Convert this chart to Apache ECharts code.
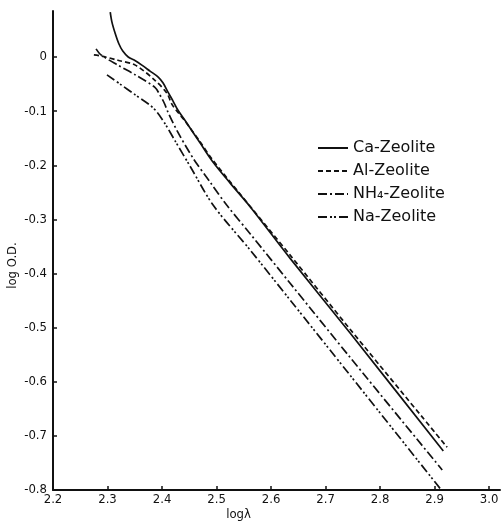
<!DOCTYPE html>
<html>
<head>
<meta charset="utf-8">
<script src="https://cdn.jsdelivr.net/npm/echarts@6/dist/echarts.min.js"></script>
<style>
html,body{margin:0;padding:0;background:#fff;}
#chart{width:501px;height:524px;}
</style>
</head>
<body>
<div id="chart"></div>
<script>
// Series names
var seriesNames = ['Ca-Zeolite', 'Al-Zeolite', 'NH\u2084-Zeolite', 'Na-Zeolite'];

// [log λ, log O.D.] pairs
var caData = [[2.305,0.083],[2.308,0.065],[2.314,0.044],[2.321,0.024],[2.328,0.011],[2.338,0.000],[2.351,-0.007],[2.363,-0.015],[2.378,-0.026],[2.393,-0.037],[2.402,-0.048],[2.411,-0.065],[2.420,-0.081],[2.429,-0.098],[2.442,-0.117],[2.470,-0.159],[2.492,-0.192],[2.525,-0.233],[2.562,-0.277],[2.635,-0.372],[2.745,-0.510],[2.916,-0.728]];
var alData = [[2.275,0.004],[2.288,0.002],[2.319,-0.006],[2.351,-0.015],[2.387,-0.043],[2.409,-0.067],[2.418,-0.087],[2.429,-0.102],[2.442,-0.118],[2.470,-0.157],[2.492,-0.189],[2.539,-0.248],[2.635,-0.366],[2.745,-0.503],[2.923,-0.721]];
var nhData = [[2.279,0.015],[2.288,0.004],[2.319,-0.015],[2.351,-0.033],[2.387,-0.056],[2.396,-0.070],[2.404,-0.085],[2.411,-0.102],[2.428,-0.137],[2.457,-0.187],[2.488,-0.231],[2.519,-0.274],[2.562,-0.327],[2.635,-0.418],[2.745,-0.555],[2.914,-0.763]];
var naData = [[2.299,-0.033],[2.323,-0.050],[2.351,-0.070],[2.378,-0.089],[2.391,-0.102],[2.406,-0.124],[2.424,-0.155],[2.451,-0.201],[2.494,-0.274],[2.562,-0.357],[2.635,-0.449],[2.745,-0.588],[2.910,-0.797]];

// Tick labels
var xTickLabels = ['2.2','2.3','2.4','2.5','2.6','2.7','2.8','2.9','3.0'];
var yTickLabels = ['-0.8','-0.7','-0.6','-0.5','-0.4','-0.3','-0.2','-0.1','0'];

var chart = echarts.init(document.getElementById('chart'), null, {renderer:'canvas'});
var ink = '#111';
var labelFont = '"DejaVu Sans Condensed", "DejaVu Sans", sans-serif';

function makeSeries(name, data, type) {
  return {
    name: name, type: 'line', data: data, symbol: 'none', smooth: 0.3,
    lineStyle: {color: ink, width: 1.7, type: type},
    itemStyle: {color: ink},
    emphasis: {disabled: true}, animation: false
  };
}

chart.setOption({
  animation: false,
  grid: {left: 53, right: 1, top: 11, bottom: 34, containLabel: false, outerBoundsMode: 'none'},
  legend: {
    orient: 'vertical', left: 317, top: 140, padding: 0,
    itemWidth: 30, itemHeight: 14, itemGap: 7,
    itemStyle: {opacity: 0},
    data: seriesNames,
    textStyle: {fontFamily: '"DejaVu Sans", sans-serif', fontSize: 16, color: ink, lineHeight: 14}
  },
  xAxis: {
    type: 'value', min: 2.2, max: 3.02, interval: 0.1,
    name: 'log\u03bb', nameLocation: 'middle', nameGap: 18, nameMoveOverlap: false,
    nameTextStyle: {fontFamily: labelFont, fontSize: 13, color: ink, padding: [0, 76, 0, 0]},
    axisLine: {onZero: false, lineStyle: {color: ink, width: 2}},
    axisTick: {show: true, inside: true, length: 4, lineStyle: {color: ink, width: 1.5}},
    splitLine: {show: false},
    axisLabel: {
      margin: 3, fontFamily: labelFont, fontSize: 13, color: ink, showMaxLabel: false,
      formatter: function (v) {
        var i = Math.round((v - 2.2) / 0.1);
        if (Math.abs(v - (2.2 + i * 0.1)) > 1e-6 || i < 0 || i >= xTickLabels.length) return '';
        return xTickLabels[i];
      }
    }
  },
  yAxis: {
    type: 'value', min: -0.8, max: 0.085, interval: 0.1,
    name: 'log O.D.', nameLocation: 'middle', nameGap: 34, nameRotate: 90, nameMoveOverlap: false,
    nameTextStyle: {fontFamily: labelFont, fontSize: 13, color: ink, padding: [0, 30, 0, 0]},
    axisLine: {show: true, onZero: false, lineStyle: {color: ink, width: 2}},
    axisTick: {show: true, inside: true, length: 4, lineStyle: {color: ink, width: 1.5}},
    splitLine: {show: false},
    axisLabel: {
      margin: 6, fontFamily: labelFont, fontSize: 13, color: ink, showMaxLabel: false,
      formatter: function (v) {
        var i = Math.round((v + 0.8) / 0.1);
        if (Math.abs(v - (-0.8 + i * 0.1)) > 1e-6 || i < 0 || i >= yTickLabels.length) return '';
        return yTickLabels[i];
      }
    }
  },
  series: [
    makeSeries(seriesNames[0], caData, 'solid'),
    makeSeries(seriesNames[1], alData, [5, 3]),
    makeSeries(seriesNames[2], nhData, [9, 3, 2, 3]),
    makeSeries(seriesNames[3], naData, [9, 3, 2, 2, 2, 3])
  ]
});
</script>
</body>
</html>
